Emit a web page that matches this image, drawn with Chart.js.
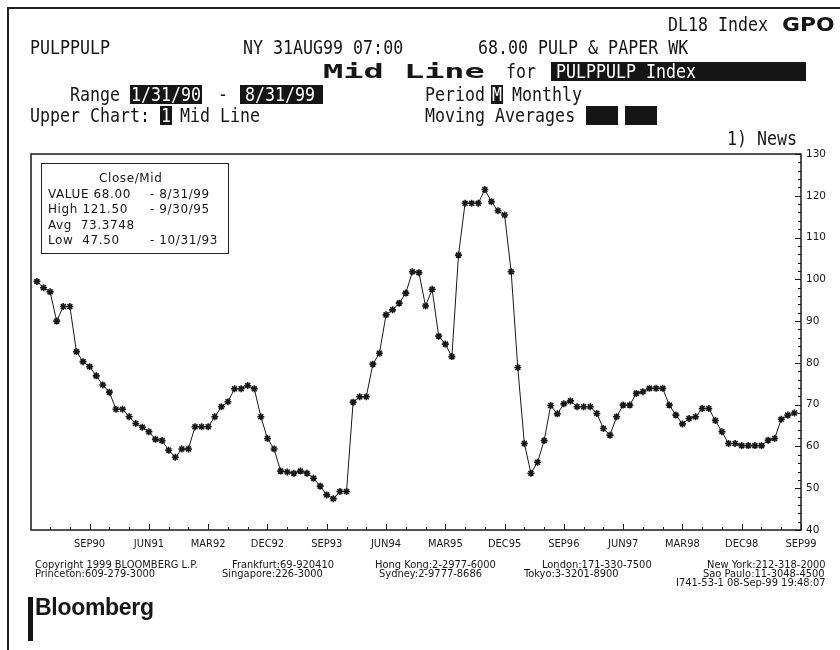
<!DOCTYPE html>
<html>
<head>
<meta charset="utf-8">
<script src="https://cdn.jsdelivr.net/npm/chart.js@4"></script>
<style>
  body { margin: 0; background: #fff; }
  #page { position: relative; width: 840px; height: 650px; overflow: hidden; background: #fff; color: #161616; }
  #page canvas { position: absolute; left: 0; top: 0; }
  .frame { position: absolute; left: 7px; top: 7px; width: 840px; height: 650px; border-top: 2px solid #222; border-left: 2px solid #222; }
  .t { position: absolute; font: 19px "DejaVu Sans Mono", monospace; transform: scaleX(0.875); transform-origin: left center; white-space: pre; line-height: 20px; }
  .box { position: absolute; background: #151515; }
  .inv { color: #fff; }
  .big { position: absolute; font: bold 20px "DejaVu Sans Mono", monospace; transform: scaleX(1.68); transform-origin: left center; white-space: pre; line-height: 20px; }
  #stats { position: absolute; left: 41px; top: 163px; width: 186px; height: 89px; border: 1.5px solid #222; background: #fff; }
  .s { position: absolute; font: 12px "DejaVu Sans", sans-serif; letter-spacing: 0.6px; white-space: pre; line-height: 14px; }
  .f { position: absolute; font: 11px "DejaVu Sans Condensed", "Liberation Sans Narrow", sans-serif; white-space: pre; line-height: 10px; }
</style>
</head>
<body>
<div id="page">
  <canvas id="myChart" width="840" height="650"></canvas>
  <div class="frame"></div>

  <div class="t" style="left:668px;top:14px;">DL18 Index</div>
  <div class="t" style="left:782px;top:14px;font-weight:bold;font-family:'DejaVu Sans',sans-serif;transform:scaleX(1.15);">GPO</div>

  <div class="t" style="left:30px;top:37px;">PULPPULP</div>
  <div class="t" style="left:243px;top:37px;">NY 31AUG99 07:00</div>
  <div class="t" style="left:478px;top:37px;">68.00 PULP &amp; PAPER WK</div>

  <div class="big" style="left:323px;top:61px;">Mid Line</div>
  <div class="t" style="left:506px;top:61px;">for</div>
  <div class="box" style="left:551px;top:62px;width:255px;height:19px;"></div>
  <div class="t inv" style="left:556px;top:61px;">PULPPULP Index</div>

  <div class="t" style="left:70px;top:84px;">Range</div>
  <div class="box" style="left:130px;top:85px;width:72px;height:19px;"></div>
  <div class="t inv" style="left:131px;top:84px;">1/31/90</div>
  <div class="t" style="left:218px;top:84px;">-</div>
  <div class="box" style="left:240px;top:85px;width:83px;height:19px;"></div>
  <div class="t inv" style="left:245px;top:84px;">8/31/99</div>
  <div class="t" style="left:425px;top:84px;">Period</div>
  <div class="box" style="left:491px;top:85px;width:12px;height:19px;"></div>
  <div class="t inv" style="left:492px;top:84px;">M</div>
  <div class="t" style="left:512px;top:84px;">Monthly</div>

  <div class="t" style="left:30px;top:105px;">Upper Chart:</div>
  <div class="box" style="left:160px;top:106px;width:12px;height:19px;"></div>
  <div class="t inv" style="left:161px;top:105px;">1</div>
  <div class="t" style="left:180px;top:105px;">Mid Line</div>
  <div class="t" style="left:425px;top:105px;">Moving Averages</div>
  <div class="box" style="left:586px;top:106px;width:32px;height:19px;"></div>
  <div class="box" style="left:625px;top:106px;width:32px;height:19px;"></div>

  <div class="t" style="left:727px;top:128px;">1) News</div>

  <div id="stats">
    <div class="s" style="left:57px;top:7px;">Close/Mid</div>
    <div class="s" style="left:6px;top:23px;">VALUE 68.00</div>
    <div class="s" style="left:108px;top:23px;">- 8/31/99</div>
    <div class="s" style="left:6px;top:38px;">High 121.50</div>
    <div class="s" style="left:108px;top:38px;">- 9/30/95</div>
    <div class="s" style="left:6px;top:54px;">Avg  73.3748</div>
    <div class="s" style="left:6px;top:69px;">Low  47.50</div>
    <div class="s" style="left:108px;top:69px;">- 10/31/93</div>
  </div>

  <div class="f" style="left:35px;top:560px;">Copyright 1999 BLOOMBERG L.P.</div>
  <div class="f" style="left:232px;top:560px;">Frankfurt:69-920410</div>
  <div class="f" style="left:375px;top:560px;">Hong Kong:2-2977-6000</div>
  <div class="f" style="left:542px;top:560px;">London:171-330-7500</div>
  <div class="f" style="left:707px;top:560px;">New York:212-318-2000</div>
  <div class="f" style="left:35px;top:569px;">Princeton:609-279-3000</div>
  <div class="f" style="left:222px;top:569px;">Singapore:226-3000</div>
  <div class="f" style="left:379px;top:569px;">Sydney:2-9777-8686</div>
  <div class="f" style="left:524px;top:569px;">Tokyo:3-3201-8900</div>
  <div class="f" style="left:703px;top:569px;">Sao Paulo:11-3048-4500</div>
  <div class="f" style="left:676px;top:578px;">I741-53-1 08-Sep-99 19:48:07</div>

  <div class="box" style="left:28px;top:597px;width:5px;height:44px;"></div>
  <div style="position:absolute;left:35px;top:594px;font:bold 23px 'Liberation Sans',Arial,sans-serif;letter-spacing:-0.3px;">Bloomberg</div>
</div>

<script>
// monthly close/mid, Jan 1990 .. Aug 1999
const values = [
    99.5, 98.0, 97.0, 90.0, 93.5, 93.5, 82.7, 80.3, 79.1, 76.9, 74.7, 73.0,   // 1990
    68.9, 68.9, 67.1, 65.5, 64.6, 63.5, 61.7, 61.4, 59.1, 57.4, 59.4, 59.4,   // 1991
    64.7, 64.7, 64.7, 67.1, 69.5, 70.7, 73.8, 73.8, 74.6, 73.8, 67.1, 61.9,   // 1992
    59.4, 54.1, 53.9, 53.6, 54.1, 53.6, 52.4, 50.5, 48.4, 47.5, 49.2, 49.2,   // 1993
    70.6, 71.9, 71.9, 79.7, 82.3, 91.5, 92.7, 94.3, 96.7, 101.8, 101.6, 93.6, // 1994
    97.6, 86.4, 84.5, 81.5, 105.8, 118.2, 118.2, 118.2, 121.5, 118.6, 116.4, 115.4, // 1995
    101.8, 78.9, 60.7, 53.6, 56.2, 61.4, 69.8, 67.8, 70.2, 70.9, 69.5, 69.5, // 1996
    69.5, 67.9, 64.3, 62.7, 67.1, 69.9, 69.9, 72.7, 73.1, 73.9, 73.9, 73.9,  // 1997
    69.9, 67.5, 65.4, 66.7, 67.1, 69.1, 69.1, 66.2, 63.5, 60.7, 60.7, 60.2,  // 1998
    60.2, 60.2, 60.2, 61.5, 61.9, 66.5, 67.5, 68.0                           // 1999
];

// month index (0 = Jan 1990) of the labelled ticks
const tickMonths = [8, 17, 26, 35, 44, 53, 62, 71, 80, 89, 98, 107, 116];
const tickLabels = ['SEP90', 'JUN91', 'MAR92', 'DEC92', 'SEP93', 'JUN94', 'MAR95',
    'DEC95', 'SEP96', 'JUN97', 'MAR98', 'DEC98', 'SEP99'];

const ink = '#181818';

// box around the plot + tick marks pointing inward
const frame = {
    id: 'frame',
    afterDraw(chart) {
        const { ctx, chartArea: a, scales: { x, y } } = chart;
        ctx.save();
        ctx.strokeStyle = ink;
        ctx.lineWidth = 1.5;
        ctx.strokeRect(a.left, a.top, a.right - a.left, a.bottom - a.top);
        ctx.lineWidth = 1;
        ctx.beginPath();
        x.ticks.forEach(t => {
            const px = Math.round(x.getPixelForValue(t.value)) + 0.5;
            const len = t.label ? 6 : 3;
            ctx.moveTo(px, a.bottom);
            ctx.lineTo(px, a.bottom - len);
        });
        y.ticks.forEach(t => {
            const py = Math.round(y.getPixelForValue(t.value)) + 0.5;
            const len = t.label ? 6 : 3;
            ctx.moveTo(a.right, py);
            ctx.lineTo(a.right - len, py);
        });
        ctx.stroke();
        ctx.restore();
    }
};

const ctx = document.getElementById('myChart').getContext('2d');

const myChart = new Chart(ctx, {
    type: 'line',
    data: {
        datasets: [{
            data: values.map((v, i) => ({ x: i, y: v })),
            borderColor: ink,
            borderWidth: 1,
            tension: 0,
            pointStyle: 'star',
            pointRadius: 3.5,
            pointBorderWidth: 1.6,
            pointBorderColor: ink,
            pointBackgroundColor: ink
        }]
    },
    plugins: [frame],
    options: {
        responsive: false,
        animation: false,
        layout: {
            padding: { left: 31, top: 154, right: 0, bottom: 90 }
        },
        plugins: {
            legend: false,
            tooltip: { enabled: false }
        },
        scales: {
            x: {
                type: 'linear',
                min: -0.9,
                max: 116,
                afterBuildTicks: (scale) => {
                    const ticks = [];
                    for (let m = 2; m <= 116; m += 3) ticks.push({ value: m });
                    scale.ticks = ticks;
                },
                afterFit: (scale) => { scale.height = 30; },
                border: { display: false },
                grid: { drawOnChartArea: false, drawTicks: false },
                ticks: {
                    autoSkip: false,
                    maxRotation: 0,
                    padding: 8,
                    color: ink,
                    font: { family: '"DejaVu Sans Condensed", "DejaVu Sans", sans-serif', size: 11 },
                    callback: (v) => {
                        const k = tickMonths.indexOf(v);
                        return k >= 0 ? tickLabels[k] : '';
                    }
                }
            },
            y: {
                position: 'right',
                min: 40,
                max: 130,
                afterFit: (scale) => { scale.width = 39; },
                border: { display: false },
                grid: { drawOnChartArea: false, drawTicks: false },
                ticks: {
                    stepSize: 2,
                    autoSkip: false,
                    padding: 5,
                    color: ink,
                    font: { family: '"DejaVu Sans", sans-serif', size: 10.5 },
                    callback: (v) => v % 10 === 0 ? v : ''
                }
            }
        }
    }
});
</script>
</body>
</html>
